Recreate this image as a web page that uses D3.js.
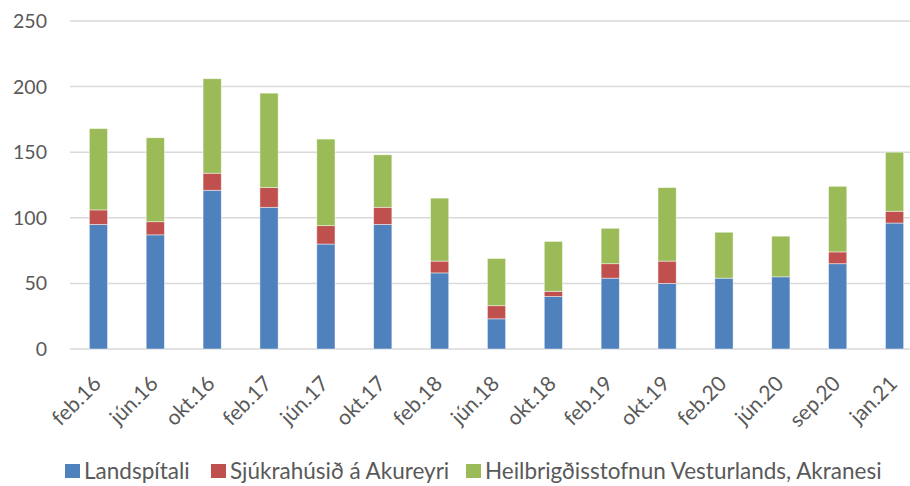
<!DOCTYPE html>
<html>
<head>
<meta charset="utf-8">
<script src="https://cdn.jsdelivr.net/npm/d3@7"></script>
<style>
  body { margin: 0; background: #fff; }
  svg text { font-family: Lato, "Open Sans", sans-serif; fill: #595959; }
</style>
</head>
<body>
<div class="chart"></div>
<script>
// data
var categories = ["feb.16", "jún.16", "okt.16", "feb.17", "jún.17", "okt.17", "feb.18", "jún.18",
  "okt.18", "feb.19", "okt.19", "feb.20", "jún.20", "sep.20", "jan.21"];
var landspitali = [95, 87, 121, 108, 80, 95, 58, 23, 40, 54, 50, 54, 55, 65, 96];
var akureyri = [11, 10, 13, 15, 14, 13, 9, 10, 4, 11, 17, 0, 0, 9, 9];
var akranes = [62, 64, 72, 72, 66, 40, 48, 36, 38, 27, 56, 35, 31, 50, 45];
var seriesNames = ["Landspítali", "Sjúkrahúsið á Akureyri", "Heilbrigðisstofnun Vesturlands, Akranesi"];
var yTicks = [0, 50, 100, 150, 200, 250];

var colors = ["#4F81BD", "#C0504D", "#9BBB59"];
var W = 910, H = 486;

var svg = d3.select(".chart").append("svg")
  .attr("width", W).attr("height", H);

var x = d3.scaleBand().domain(categories).range([70, 923]).paddingInner(0.68).paddingOuter(0.34);
var y = d3.scaleLinear().domain([0, 250]).range([349, 21]);

// gridlines
svg.append("g").selectAll("line").data(yTicks).enter().append("line")
  .attr("x1", 70).attr("x2", W)
  .attr("y1", function(d) { return y(d); }).attr("y2", function(d) { return y(d); })
  .attr("stroke", "#D9D9D9").attr("stroke-width", 1.5);

// y labels
svg.append("g").selectAll("text").data(yTicks).enter().append("text")
  .attr("x", 47).attr("y", function(d) { return y(d); })
  .attr("dy", "0.36em").attr("text-anchor", "end")
  .style("font-size", "19.5px")
  .text(function(d) { return d; });

var table = categories.map(function(c, i) {
  return { cat: c, s0: landspitali[i], s1: akureyri[i], s2: akranes[i] };
});
var stack = d3.stack().keys(["s0", "s1", "s2"])(table);

svg.append("g").selectAll("g").data(stack).enter().append("g")
  .attr("fill", function(d, i) { return colors[i]; })
  .selectAll("rect").data(function(d) { return d; }).enter().append("rect")
  .attr("x", function(d) { return x(d.data.cat); })
  .attr("width", x.bandwidth())
  .attr("y", function(d) { return y(d[1]); })
  .attr("height", function(d) { return y(d[0]) - y(d[1]); })
  .attr("stroke", "#fff").attr("stroke-opacity", 0.6).attr("stroke-width", 0.75);

// x labels, rotated
svg.append("g").selectAll("text").data(categories).enter().append("text")
  .attr("text-anchor", "end")
  .attr("transform", function(d) {
    return "translate(" + (x(d) + x.bandwidth() / 2 + 4) + ",385) rotate(-45)";
  })
  .style("font-size", "21px")
  .text(function(d) { return d; });

// legend
var legendX = [65, 211, 466];
var lg = svg.append("g").selectAll("g").data(seriesNames).enter().append("g")
  .attr("transform", function(d, i) { return "translate(" + legendX[i] + ",464)"; });
lg.append("rect").attr("width", 15).attr("height", 14)
  .attr("fill", function(d, i) { return colors[i]; });
lg.append("text").attr("x", 19).attr("y", 7).attr("dy", "0.36em")
  .style("font-size", "22.5px")
  .text(function(d) { return d; });
</script>
</body>
</html>
